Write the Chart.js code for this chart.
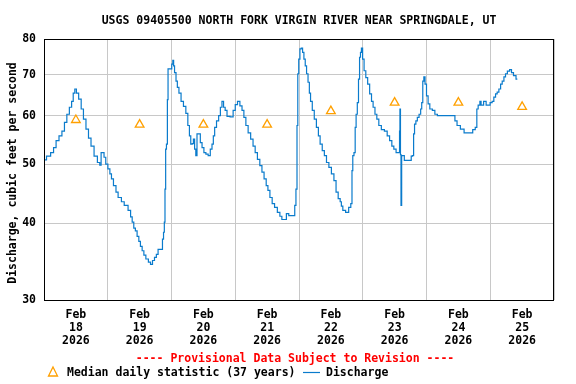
<!DOCTYPE html>
<html>
<head>
<meta charset="utf-8">
<script src="https://cdn.jsdelivr.net/npm/chart.js@4.4.1/dist/chart.umd.min.js"></script>
<style>
  html, body { margin: 0; padding: 0; background: #fff; }
  #wrap { width: 576px; height: 384px; }
</style>
</head>
<body>
<div id="wrap"><canvas id="chart" width="576" height="384"></canvas></div>
<script>
// hours since Feb 18 00:00
const hours = [0, 1.9, 3.1, 4.1, 5.0, 6.3, 7.2, 8.2, 9.0, 10.1, 10.7, 11.3, 11.9, 12.5, 13.6, 14.4, 15.3, 16.3, 17.2, 18.2,
  19.5, 20.7, 21.3, 21.7, 22.3, 22.9, 23.6, 24.5, 25.1, 25.7, 26.6, 27.6, 28.2, 28.9, 29.4, 31.0, 32.3, 32.9, 33.5, 34.1,
  34.7, 35.4, 36.0, 36.6, 37.3, 37.9, 38.8, 39.8, 40.4, 41.3, 41.9, 42.7, 43.2, 44.4, 44.8, 45.2, 45.4, 45.7, 45.9, 46.3,
  46.6, 46.8, 47.9, 48.3, 48.7, 48.9, 49.4, 50.0, 50.4, 51.2, 52.0, 53.0, 53.8, 54.5, 55.0, 55.5, 56.1, 56.4, 57.0, 57.3,
  57.9, 58.6, 59.1, 59.9, 60.5, 61.4, 62.2, 63.0, 63.5, 64.0, 64.5, 65.4, 66.1, 66.7, 67.3, 67.9, 68.5, 69.3, 70.8, 71.6,
  72.4, 73.3, 74.2, 74.9, 75.6, 76.4, 77.3, 78.3, 79.1, 79.9, 80.8, 81.7, 82.4, 83.3, 84.0, 84.6, 85.5, 86.3, 87.3, 88.4,
  89.2, 89.9, 90.8, 91.7, 92.6, 94.2, 94.6, 95.1, 95.4, 95.7, 96.1, 96.6, 97.1, 97.6, 98.1, 98.6, 99.1, 99.7, 100.1, 100.6,
  101.4, 102.1, 103.0, 103.6, 104.3, 105.2, 105.9, 106.8, 107.7, 108.7, 109.6, 110.3, 111.2, 111.8, 112.1, 112.9, 114.2,
  115.2, 115.8, 116.1, 116.4, 117.0, 117.3, 117.7, 118.2, 118.6, 119.0, 119.3, 119.7, 120.2, 120.8, 121.5, 122.2, 123.0,
  123.6, 124.2, 125.0, 125.6, 126.5, 127.5, 128.8, 129.6, 130.6, 131.3, 132.1, 133.0, 133.8, 133.9, 134.1, 134.3, 134.5,
  134.8, 135.5, 135.8, 138.1, 138.4, 139.0, 139.3, 139.7, 140.3, 140.8, 141.6, 142.0, 142.4, 142.8, 143.2, 143.7, 144.3,
  144.9, 145.6, 146.8, 147.5, 148.7, 154.4, 155.0, 156.0, 157.5, 158.8, 160.9, 161.9, 162.8, 163.1, 163.8, 164.4, 164.7,
  166.3, 166.6, 167.5, 168.4, 169.0, 169.7, 170.3, 170.9, 171.6, 172.2, 172.8, 173.5, 174.0, 174.9, 175.7, 176.3, 177.2,
  178.2];
const discharge = [50.8, 51.5, 52.2, 53.2, 54.6, 55.6, 56.6, 58.5, 60.3, 61.9, 63.3, 65.3, 66.3, 65.3, 63.8, 61.5, 59.2, 57.0, 55.1, 53.5,
  51.5, 50.3, 49.8, 52.2, 52.2, 51.3, 50.0, 49.1, 48.2, 47.3, 46.1, 45.0, 44.1, 44.1, 43.4, 42.8, 42.0, 41.0, 40.2, 39.3,
  38.9, 38.1, 37.4, 36.7, 36.1, 35.5, 35.0, 34.6, 34.3, 34.8, 35.2, 35.6, 36.3, 36.3, 37.7, 38.7, 40.2, 45.5, 52.9, 53.9,
  63.7, 71.5, 71.5, 72.8, 73.8, 72.3, 70.5, 68.3, 66.7, 65.3, 63.3, 62.1, 60.5, 57.8, 55.6, 53.9, 54.0, 54.9, 52.9, 51.6,
  56.0, 56.0, 54.2, 53.2, 52.2, 51.9, 51.6, 52.9, 53.9, 55.6, 57.4, 58.8, 60.0, 61.9, 63.3, 61.9, 61.2, 59.8, 59.7, 61.2,
  62.5, 63.3, 62.2, 61.2, 59.6, 57.8, 56.2, 54.9, 53.5, 52.2, 50.9, 49.7, 48.5, 47.3, 46.1, 45.3, 44.1, 43.1, 42.5, 41.7,
  41.1, 40.6, 40.6, 41.5, 41.2, 41.2, 42.8, 45.5, 57.8, 70.2, 74.2, 77.1, 77.3, 76.1, 74.2, 72.3, 70.2, 68.0, 65.3, 63.3,
  61.2, 59.2, 57.4, 55.6, 53.9, 52.6, 51.6, 50.3, 49.4, 48.2, 47.0, 45.0, 43.9, 43.4, 42.7, 42.0, 41.7,
  42.5, 43.1, 48.8, 51.6, 52.2, 57.4, 60.3, 63.0, 68.8, 74.7, 76.1, 77.3, 74.2, 71.0, 69.2, 67.5, 65.1,
  63.3, 61.9, 60.3, 59.2, 57.8, 56.9, 56.6, 55.6, 54.6, 53.5, 52.9, 52.2, 52.2, 56.6, 61.5, 51.8, 42.8,
  51.6, 51.6, 50.7, 50.7, 51.5, 51.6, 56.0, 58.1, 58.8, 59.6, 60.3, 61.5, 63.0, 68.3, 69.4, 67.5, 64.6,
  62.7, 61.5, 61.2, 60.3, 60.0, 60.0, 58.8, 57.8, 57.0, 56.2, 56.2, 56.9, 57.4, 61.5, 62.4, 63.3, 62.4,
  63.3, 62.4, 62.4, 63.0, 63.3, 64.3, 65.1, 65.5, 66.3, 67.5, 68.3, 69.4, 70.2, 70.9, 71.3, 70.5, 69.7,
  68.8];
const medianHours = [12, 36, 60, 84, 108, 132, 156, 180];
const medianValues = [59, 58, 58, 58, 61, 63, 63, 62];
const dayLabels = ['18', '19', '20', '21', '22', '23', '24', '25'];
const yTicks = [30, 40, 50, 60, 70, 80];

const FONT = '"DejaVu Sans Mono", monospace';
const LINE_COLOR = '#0a7bcc';
const MEDIAN_COLOR = '#ffa000';
const GRID_COLOR = '#c8c8c8';

const pairs = (xs, ys) => xs.map((x, i) => ({ x: x, y: ys[i] }));

const decorPlugin = {
  id: 'decor',
  afterDraw(chart) {
    const { ctx, chartArea } = chart;
    ctx.save();
    // frame
    ctx.strokeStyle = '#000';
    ctx.lineWidth = 1;
    ctx.strokeRect(chartArea.left + 0.5, chartArea.top + 0.5,
      chartArea.right - chartArea.left - 1, chartArea.bottom - chartArea.top);
    ctx.font = 'bold 11.5px ' + FONT;
    ctx.textBaseline = 'middle';
    // title
    ctx.fillStyle = '#000';
    ctx.textAlign = 'center';
    ctx.fillText('USGS 09405500 NORTH FORK VIRGIN RIVER NEAR SPRINGDALE, UT', 299, 21);
    // y title
    ctx.save();
    ctx.translate(13, 173);
    ctx.rotate(-Math.PI / 2);
    ctx.fillText('Discharge, cubic feet per second', 0, 0);
    ctx.restore();
    // provisional note
    ctx.fillStyle = '#ff0000';
    ctx.fillText('---- Provisional Data Subject to Revision ----', 295, 359);
    // legend
    ctx.fillStyle = '#000';
    ctx.textAlign = 'left';
    ctx.fillText('Median daily statistic (37 years)', 67, 373);
    ctx.fillText('Discharge', 326, 373);
    ctx.strokeStyle = MEDIAN_COLOR;
    ctx.lineWidth = 1.3;
    ctx.beginPath();
    ctx.moveTo(53, 367);
    ctx.lineTo(57.5, 376);
    ctx.lineTo(48.5, 376);
    ctx.closePath();
    ctx.stroke();
    ctx.strokeStyle = LINE_COLOR;
    ctx.lineWidth = 1.2;
    ctx.beginPath();
    ctx.moveTo(303, 372.5);
    ctx.lineTo(320, 372.5);
    ctx.stroke();
    ctx.restore();
  }
};

new Chart(document.getElementById('chart'), {
  type: 'line',
  data: {
    datasets: [
      {
        label: 'Discharge',
        data: pairs(hours, discharge),
        borderColor: LINE_COLOR,
        borderWidth: 1.2,
        pointRadius: 0,
        stepped: 'middle',
        fill: false,
        order: 2,
      },
      {
        label: 'Median daily statistic (37 years)',
        data: pairs(medianHours, medianValues),
        showLine: false,
        pointStyle: 'triangle',
        pointRadius: 5,
        pointBorderColor: MEDIAN_COLOR,
        pointBackgroundColor: 'rgba(0,0,0,0)',
        pointBorderWidth: 1.3,
        order: 1,
      },
    ],
  },
  options: {
    responsive: false,
    animation: false,
    devicePixelRatio: 1,
    layout: { padding: { left: 0, right: 22, top: 39, bottom: 0 } },
    plugins: { legend: { display: false }, tooltip: { enabled: false } },
    scales: {
      x: {
        type: 'linear',
        min: 0,
        max: 192,
        afterBuildTicks(scale) {
          const t = [];
          for (let v = 0; v <= 192; v += 12) t.push({ value: v });
          scale.ticks = t;
        },
        afterFit(scale) { scale.height = 84; },
        grid: {
          drawTicks: false,
          color: (c) => (c.tick && c.tick.value % 24 === 0 ? GRID_COLOR : 'rgba(0,0,0,0)'),
        },
        border: { display: false },
        ticks: {
          autoSkip: false,
          maxRotation: 0,
          padding: 9,
          color: '#000',
          font: { family: FONT, size: 11.5, weight: 'bold', lineHeight: 1.13 },
          callback: (v) => (v % 24 === 12 ? ['Feb', dayLabels[Math.floor(v / 24)], '2026'] : ''),
        },
      },
      y: {
        type: 'logarithmic',
        min: 30,
        max: 80,
        afterBuildTicks(scale) { scale.ticks = yTicks.map((v) => ({ value: v })); },
        afterFit(scale) { scale.width = 44; },
        grid: { drawTicks: false, color: GRID_COLOR },
        border: { display: false },
        ticks: {
          padding: 8,
          color: '#000',
          font: { family: FONT, size: 11.5, weight: 'bold' },
          callback: (v) => String(v),
        },
      },
    },
  },
  plugins: [decorPlugin],
});
</script>
</body>
</html>
